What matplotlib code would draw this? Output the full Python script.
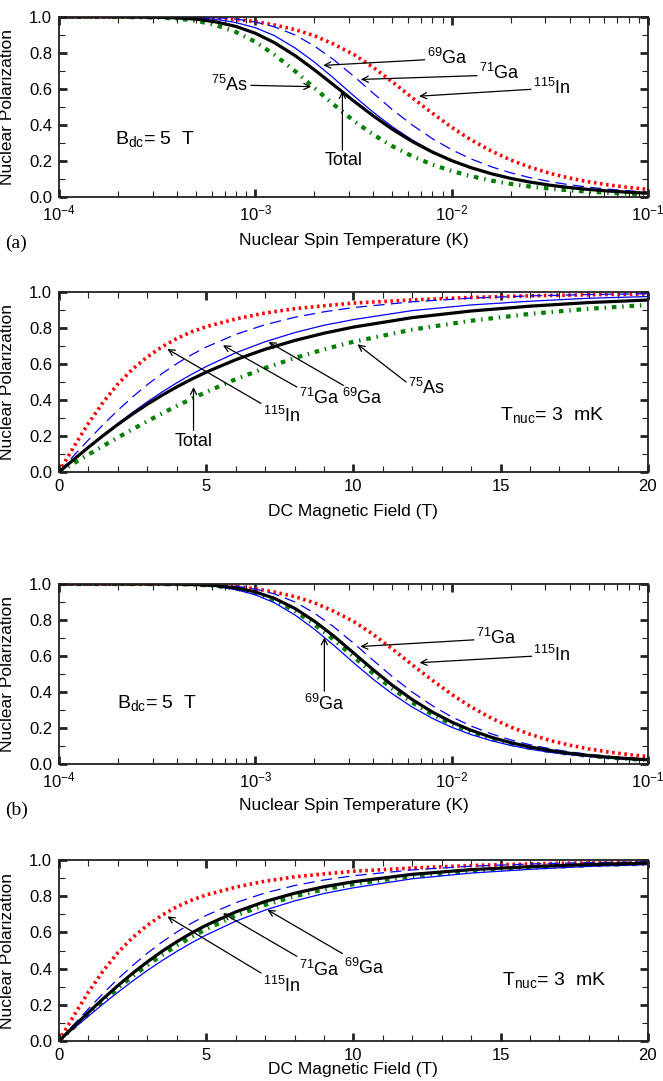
import matplotlib
matplotlib.use("Agg")
import matplotlib.pyplot as plt
from matplotlib.ticker import MultipleLocator, LogLocator, NullFormatter

plt.rcParams['font.family'] = ['Liberation Sans', 'DejaVu Sans']
plt.rcParams['mathtext.fontset'] = 'custom'
plt.rcParams['mathtext.rm'] = 'Liberation Sans'
plt.rcParams['mathtext.default'] = 'regular'

# temperatura del spin nuclear (K), campo fijo 5 T
temp_K = [1e-4, 2e-4, 3.2e-4, 4e-4, 5e-4, 6.3e-4, 8e-4, 1e-3, 1.25e-3, 1.6e-3, 2e-3, 2.5e-3,
          3.2e-3, 4e-3, 5e-3, 6.3e-3, 8e-3, 1e-2, 1.25e-2, 1.6e-2, 2e-2, 2.5e-2, 3.2e-2,
          4e-2, 5e-2, 6.3e-2, 8e-2, 1e-1]
as75_T = [1.000, 1.000, 0.9968, 0.9906, 0.9792, 0.9542, 0.9155, 0.8622, 0.7909, 0.6982, 0.6060, 0.5150,
          0.4204, 0.3460, 0.2820, 0.2264, 0.1798, 0.1445, 0.1160, 0.0908, 0.0727, 0.0583, 0.0456,
          0.0365, 0.0292, 0.0231, 0.0182, 0.0146]
ga69_T = [1.000, 1.000, 0.9997, 0.9985, 0.9955, 0.9871, 0.9686, 0.9405, 0.8966, 0.8269, 0.7495, 0.6618,
          0.5591, 0.4701, 0.3897, 0.3169, 0.2534, 0.2047, 0.1648, 0.1293, 0.1037, 0.0831, 0.0649,
          0.0520, 0.0416, 0.0331, 0.0260, 0.0208]
ga71_T = [1.000, 1.000, 1.000, 0.9998, 0.9987, 0.9959, 0.9881, 0.9722, 0.9454, 0.8997, 0.8387, 0.7641,
          0.6678, 0.5755, 0.4851, 0.4002, 0.3236, 0.2629, 0.2125, 0.1673, 0.1344, 0.1078, 0.0844,
          0.0675, 0.0541, 0.0430, 0.0338, 0.0271]
in115_T = [1.000, 1.000, 0.9998, 0.9993, 0.9974, 0.9933, 0.9863, 0.9741, 0.9559, 0.9295, 0.8959, 0.8502,
           0.7898, 0.7195, 0.6393, 0.5517, 0.4651, 0.3874, 0.3188, 0.2545, 0.2057, 0.1661, 0.1302,
           0.1047, 0.0842, 0.0669, 0.0527, 0.0421]
total_a_T = [1.000, 1.000, 0.9983, 0.9948, 0.9880, 0.9726, 0.9470, 0.9098, 0.8576, 0.7846, 0.7067, 0.6236,
             0.5302, 0.4499, 0.3760, 0.3085, 0.2490, 0.2022, 0.1635, 0.1287, 0.1034, 0.0829, 0.0649,
             0.0521, 0.0417, 0.0331, 0.0260, 0.0208]
black_b_T = [1.000, 1.000, 0.9999, 0.9992, 0.9971, 0.9915, 0.9784, 0.9564, 0.9210, 0.8633, 0.7941, 0.7130,
             0.6135, 0.5228, 0.4374, 0.3586, 0.2885, 0.2338, 0.1887, 0.1483, 0.1191, 0.0955, 0.0747,
             0.0598, 0.0479, 0.0381, 0.0299, 0.0240]
green_b_T = [1.000, 1.000, 0.9998, 0.9989, 0.9965, 0.9897, 0.9745, 0.9500, 0.9112, 0.8487, 0.7763, 0.6925,
             0.5917, 0.5017, 0.4183, 0.3419, 0.2745, 0.2222, 0.1791, 0.1407, 0.1129, 0.0905, 0.0708,
             0.0567, 0.0454, 0.0361, 0.0283, 0.0227]

# campo magnetico DC (T), temperatura fija 3 mK
field_T = [0, 0.5, 1, 1.5, 2, 2.5, 3, 3.5, 4, 4.5, 5, 6, 7, 8, 9, 10, 12, 14, 16, 18, 20]
as75_B = [0, 0.0485, 0.0968, 0.1445, 0.1914, 0.2373, 0.2820, 0.3251, 0.3666, 0.4061, 0.4442,
          0.5150, 0.5775, 0.6327, 0.6812, 0.7234, 0.7909, 0.8402, 0.8783, 0.9067, 0.9280]
ga69_B = [0, 0.0693, 0.1377, 0.2047, 0.2693, 0.3311, 0.3897, 0.4442, 0.4951, 0.5422, 0.5857,
          0.6618, 0.7234, 0.7739, 0.8151, 0.8465, 0.8966, 0.9280, 0.9487, 0.9651, 0.9745]
ga71_B = [0, 0.0900, 0.1781, 0.2629, 0.3430, 0.4170, 0.4851, 0.5467, 0.6019, 0.6509, 0.6940,
          0.7641, 0.8182, 0.8590, 0.8897, 0.9134, 0.9454, 0.9660, 0.9783, 0.9859, 0.9902]
in115_B = [0, 0.1387, 0.2704, 0.3874, 0.4886, 0.5715, 0.6393, 0.6955, 0.7415, 0.7780, 0.8072,
           0.8502, 0.8831, 0.9070, 0.9234, 0.9381, 0.9559, 0.9696, 0.9787, 0.9844, 0.9889]
total_a_B = [0, 0.0692, 0.1370, 0.2022, 0.2641, 0.3220, 0.3761, 0.4262, 0.4726, 0.5151, 0.5544,
             0.6236, 0.6816, 0.7302, 0.7709, 0.8048, 0.8575, 0.8943, 0.9212, 0.9412, 0.9552]
black_b_B = [0, 0.0797, 0.1579, 0.2338, 0.3062, 0.3741, 0.4374, 0.4955, 0.5485, 0.5966, 0.6399,
             0.7130, 0.7708, 0.8165, 0.8524, 0.8800, 0.9210, 0.9470, 0.9635, 0.9755, 0.9824]
green_b_B = [0, 0.0755, 0.1498, 0.2222, 0.2914, 0.3569, 0.4183, 0.4750, 0.5271, 0.5748, 0.6182,
             0.6925, 0.7518, 0.7994, 0.8375, 0.8666, 0.9112, 0.9394, 0.9576, 0.9713, 0.9792]

# estilos de las curvas
green_style = dict(color='#008000', lw=3.0, ls=(0, (1.1, 1.4, 0.35, 1.4)))
red_style = dict(color='#ff0000', lw=2.6, ls=(0, (0.7, 1.0)))
dash_style = dict(color='#0000ff', lw=0.9, ls=(0, (9, 5)))
blue_style = dict(color='#0000ff', lw=0.9, ls='-')
black_style = dict(color='black', lw=2.3, ls='-')

arrow = dict(arrowstyle='->', color='black', lw=0.9, shrinkA=0, shrinkB=0, mutation_scale=11)
FS = 13


def estilo(ax, log):
    ax.set_ylim(0, 1)
    ax.yaxis.set_major_locator(MultipleLocator(0.2))
    ax.yaxis.set_minor_locator(MultipleLocator(0.1))
    ax.yaxis.set_major_formatter(plt.FormatStrFormatter('%.1f'))
    if log:
        ax.set_xscale('log')
        ax.set_xlim(1e-4, 1e-1)
        ax.xaxis.set_minor_locator(LogLocator(base=10, subs=range(2, 10)))
        ax.xaxis.set_minor_formatter(NullFormatter())
        ax.set_xlabel('Nuclear Spin Temperature (K)', fontsize=12.5)
    else:
        ax.set_xlim(0, 20)
        ax.xaxis.set_major_locator(MultipleLocator(5))
        ax.xaxis.set_minor_locator(MultipleLocator(1))
        ax.set_xlabel('DC Magnetic Field (T)', fontsize=12.5)
    ax.set_ylabel('Nuclear Polarization', fontsize=12.5)
    ax.yaxis.set_label_coords(-0.074, 0.5)
    ax.tick_params(which='both', direction='in', top=True, right=True, labelsize=12, colors='#222222',
                   labelcolor='black')
    ax.tick_params(which='major', length=6, width=2.0, pad=5)
    ax.tick_params(which='minor', length=4, width=0.8)
    for s in ax.spines.values():
        s.set_linewidth(1.3)
        s.set_color('#222222')


def etiqueta(ax, texto, tip, start, pos, ha='left'):
    ax.annotate('', xy=tip, xytext=start, arrowprops=arrow)
    ax.text(pos[0], pos[1], texto, fontsize=FS, ha=ha, va='center')


fig = plt.figure(figsize=(6.63, 10.81), dpi=100)
left, width, height = 0.089, 0.888, 0.1665
ax1 = fig.add_axes([left, 0.8178, width, height])
ax2 = fig.add_axes([left, 0.5634, width, height])
ax3 = fig.add_axes([left, 0.2932, width, height])
ax4 = fig.add_axes([left, 0.0370, width, 0.1674])

# (a) panel superior: temperatura
ax1.plot(temp_K, as75_T, **green_style)
ax1.plot(temp_K, in115_T, **red_style)
ax1.plot(temp_K, ga71_T, **dash_style)
ax1.plot(temp_K, ga69_T, **blue_style)
ax1.plot(temp_K, total_a_T, **black_style)
estilo(ax1, True)
ax1.xaxis.set_label_coords(0.5, -0.2)
etiqueta(ax1, '$^{69}$Ga', (2.22e-3, 0.731), (7.3e-3, 0.762), (7.5e-3, 0.775))
etiqueta(ax1, '$^{71}$Ga', (3.45e-3, 0.653), (1.35e-2, 0.674), (1.38e-2, 0.69))
etiqueta(ax1, '$^{115}$In', (6.84e-3, 0.56), (2.54e-2, 0.598), (2.6e-2, 0.605))
etiqueta(ax1, '$^{75}$As', (1.93e-3, 0.613), (9.5e-4, 0.62), (9.2e-4, 0.625), ha='right')
etiqueta(ax1, 'Total', (2.78e-3, 0.589), (2.78e-3, 0.26), (2.83e-3, 0.2), ha='center')
ax1.text(1.92e-4, 0.324, 'B$_{dc}$= 5  T', fontsize=14, va='center')
fig.text(0.008, 1 - 243 / 1081, '(a)', fontsize=14, family='Liberation Serif', va='center')

# panel 2: campo magnetico
ax2.plot(field_T, as75_B, **green_style)
ax2.plot(field_T, in115_B, **red_style)
ax2.plot(field_T, ga71_B, **dash_style)
ax2.plot(field_T, ga69_B, **blue_style)
ax2.plot(field_T, total_a_B, **black_style)
estilo(ax2, False)
ax2.xaxis.set_label_coords(0.5, -0.178)
etiqueta(ax2, '$^{115}$In', (3.68, 0.683), (6.86, 0.381), (6.93, 0.31))
etiqueta(ax2, '$^{71}$Ga', (5.57, 0.704), (8.08, 0.472), (8.15, 0.41))
etiqueta(ax2, '$^{69}$Ga', (7.12, 0.722), (9.66, 0.481), (9.62, 0.41))
etiqueta(ax2, '$^{75}$As', (10.14, 0.709), (11.79, 0.50), (11.85, 0.465))
etiqueta(ax2, 'Total', (4.57, 0.472), (4.57, 0.231), (4.57, 0.167), ha='center')
ax2.text(14.97, 0.315, 'T$_{nuc}$= 3  mK', fontsize=14, va='center')

# (b) panel 3: temperatura
ax3.plot(temp_K, green_b_T, **green_style)
ax3.plot(temp_K, in115_T, **red_style)
ax3.plot(temp_K, ga71_T, **dash_style)
ax3.plot(temp_K, ga69_T, **blue_style)
ax3.plot(temp_K, black_b_T, **black_style)
estilo(ax3, True)
ax3.xaxis.set_label_coords(0.5, -0.19)
etiqueta(ax3, '$^{71}$Ga', (3.43e-3, 0.653), (1.30e-2, 0.69), (1.33e-2, 0.70))
etiqueta(ax3, '$^{115}$In', (6.87e-3, 0.563), (2.56e-2, 0.599), (2.6e-2, 0.605))
etiqueta(ax3, '$^{69}$Ga', (2.25e-3, 0.704), (2.25e-3, 0.405), (2.25e-3, 0.335), ha='center')
ax3.text(1.98e-4, 0.341, 'B$_{dc}$= 5  T', fontsize=14, va='center')
fig.text(0.008, 1 - 810 / 1081, '(b)', fontsize=14, family='Liberation Serif', va='center')

# panel 4: campo magnetico
ax4.plot(field_T, green_b_B, **green_style)
ax4.plot(field_T, in115_B, **red_style)
ax4.plot(field_T, ga71_B, **dash_style)
ax4.plot(field_T, ga69_B, **blue_style)
ax4.plot(field_T, black_b_B, **black_style)
estilo(ax4, False)
ax4.xaxis.set_label_coords(0.5, -0.116)
etiqueta(ax4, '$^{115}$In', (3.68, 0.688), (6.86, 0.376), (6.93, 0.306))
etiqueta(ax4, '$^{71}$Ga', (5.57, 0.706), (8.08, 0.468), (8.15, 0.394))
etiqueta(ax4, '$^{69}$Ga', (7.08, 0.725), (9.63, 0.483), (9.68, 0.404))
ax4.text(15.05, 0.336, 'T$_{nuc}$= 3  mK', fontsize=14, va='center')

fig.savefig('out.png', dpi=100)
